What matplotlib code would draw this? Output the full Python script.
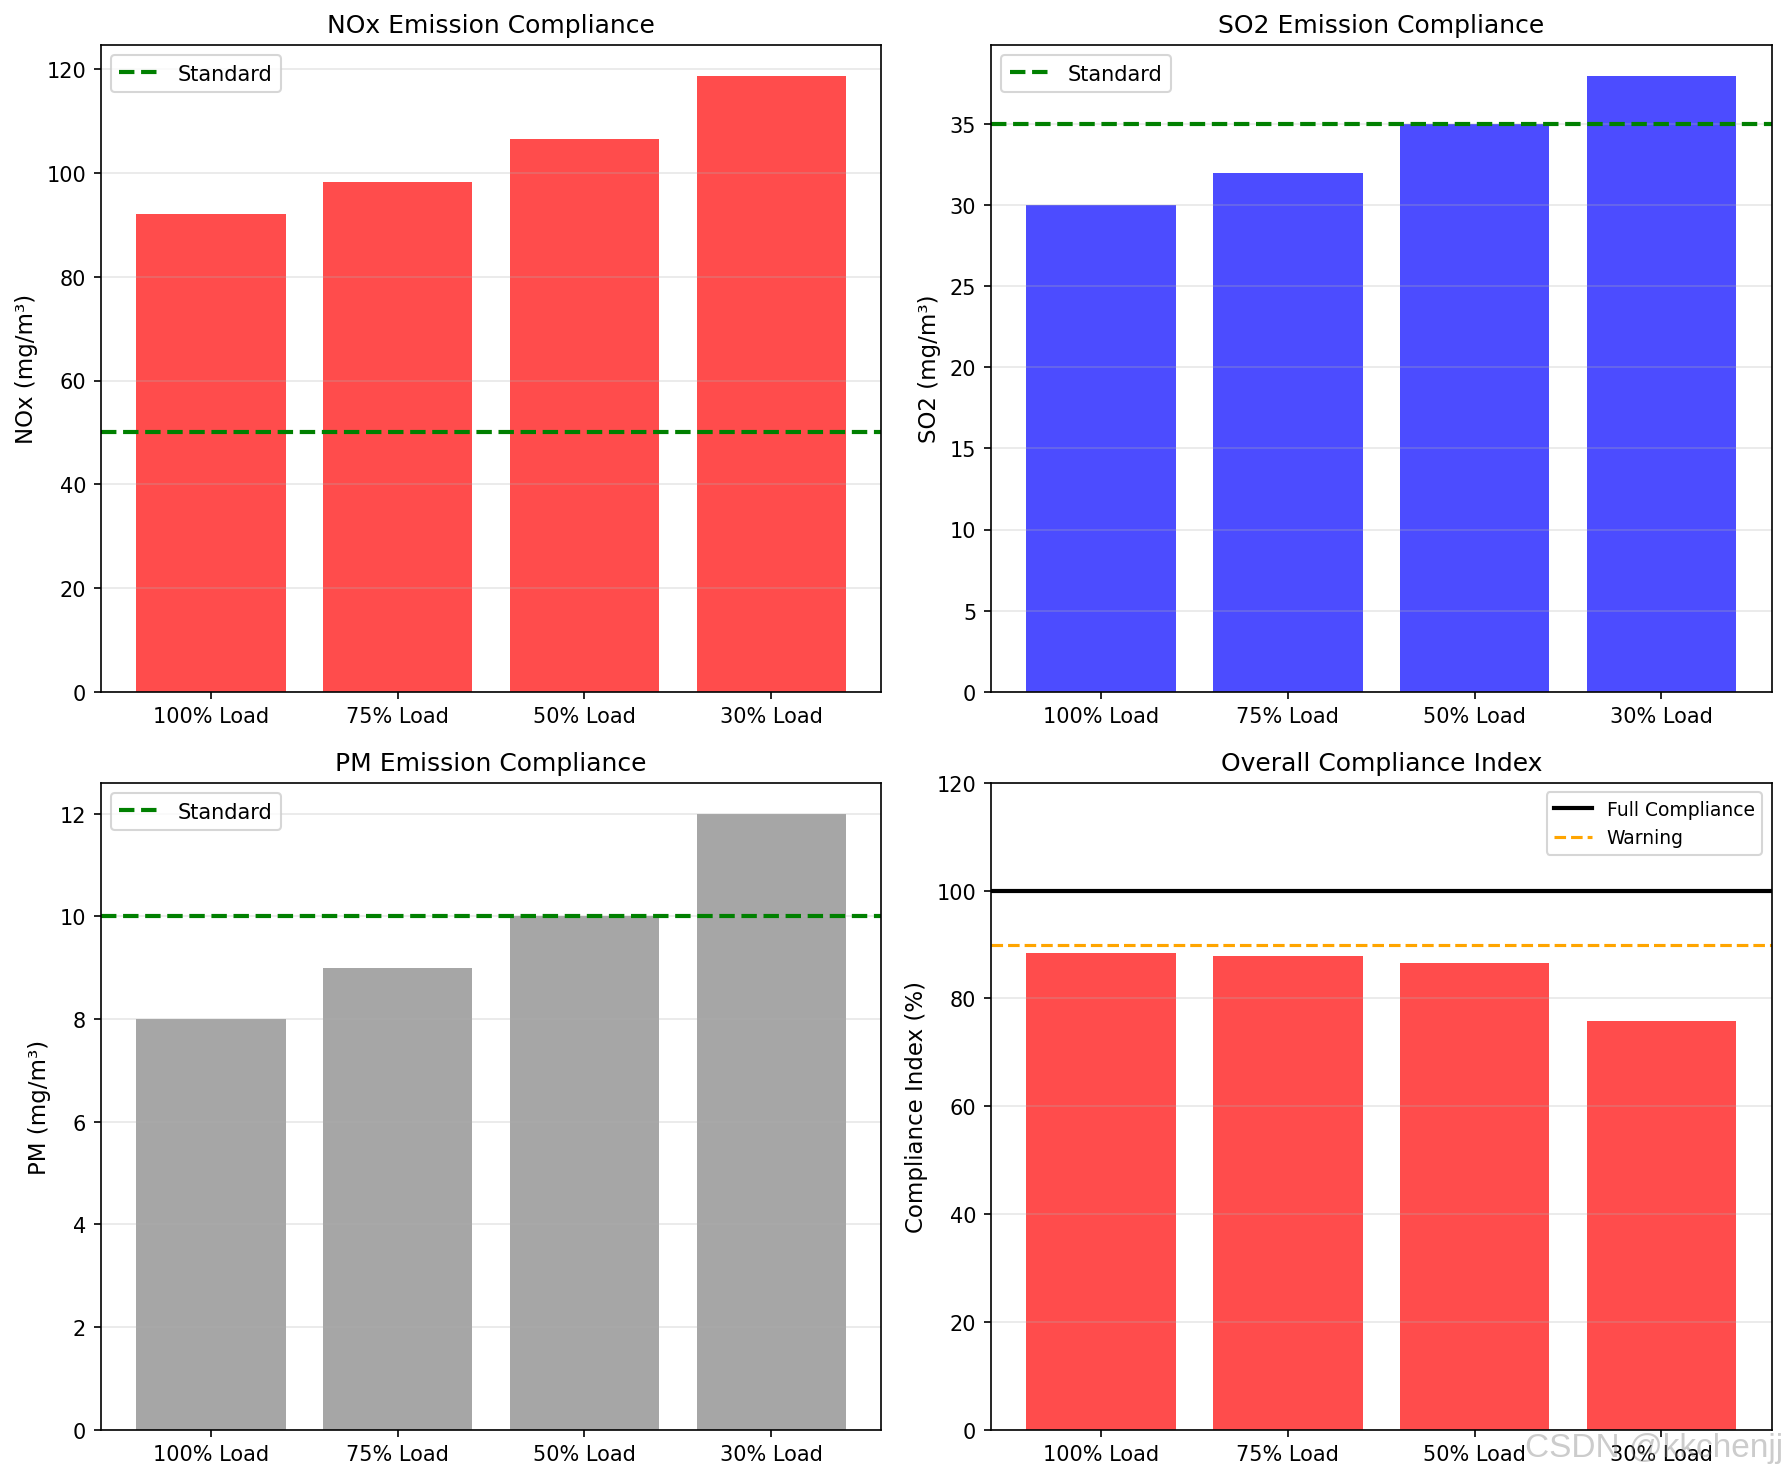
import matplotlib
matplotlib.use("Agg")
import matplotlib.pyplot as plt
import numpy as np

LOADS = ["100% Load", "75% Load", "50% Load", "30% Load"]
NOX = [92.2, 98.2, 106.5, 118.8]
SO2 = [30.0, 32.0, 35.0, 38.0]
PM = [8.0, 9.0, 10.0, 12.0]
COMPLIANCE = [88.5, 87.8, 86.6, 75.8]
NOX_STD = 50
SO2_STD = 35
PM_STD = 10
FULL = 100
WARNING = 90


def emission_panel(ax, values, standard, color, title, ylabel):
    ax.bar(LOADS, values, color=color, alpha=0.7)
    ax.axhline(standard, color="green", linestyle="--", linewidth=2, label="Standard")
    ax.set_title(title)
    ax.set_ylabel(ylabel, fontsize=11)
    ax.legend(loc="upper left")
    ax.grid(True, alpha=0.3, axis="y")


fig, axes = plt.subplots(2, 2, figsize=(11.9, 9.873))
fig.subplots_adjust(left=0.0564, right=0.9925, top=0.9691, bottom=0.034,
                    wspace=0.14, hspace=0.141)

emission_panel(axes[0, 0], NOX, NOX_STD, "red", "NOx Emission Compliance", "NOx (mg/m³)")
emission_panel(axes[0, 1], SO2, SO2_STD, "blue", "SO2 Emission Compliance", "SO2 (mg/m³)")
emission_panel(axes[1, 0], PM, PM_STD, "gray", "PM Emission Compliance", "PM (mg/m³)")

ax = axes[1, 1]
colors = ["green" if v >= WARNING else "red" for v in COMPLIANCE]
ax.bar(LOADS, COMPLIANCE, color=colors, alpha=0.7)
ax.axhline(FULL, color="black", linestyle="-", linewidth=2, label="Full Compliance")
ax.axhline(WARNING, color="orange", linestyle="--", linewidth=1.5, label="Warning")
ax.set_title("Overall Compliance Index")
ax.set_ylabel("Compliance Index (%)", fontsize=11)
ax.set_ylim(0, 120)
ax.legend(loc="upper right", fontsize=9)
ax.grid(True, alpha=0.3, axis="y")

# watermark
fig.text(0.999, 0.0165, "CSDN @kkchenjj", ha="right", va="baseline", fontsize=16,
         family="Liberation Sans", color="gray", alpha=0.4)
plt.savefig("out.png", dpi=150)
